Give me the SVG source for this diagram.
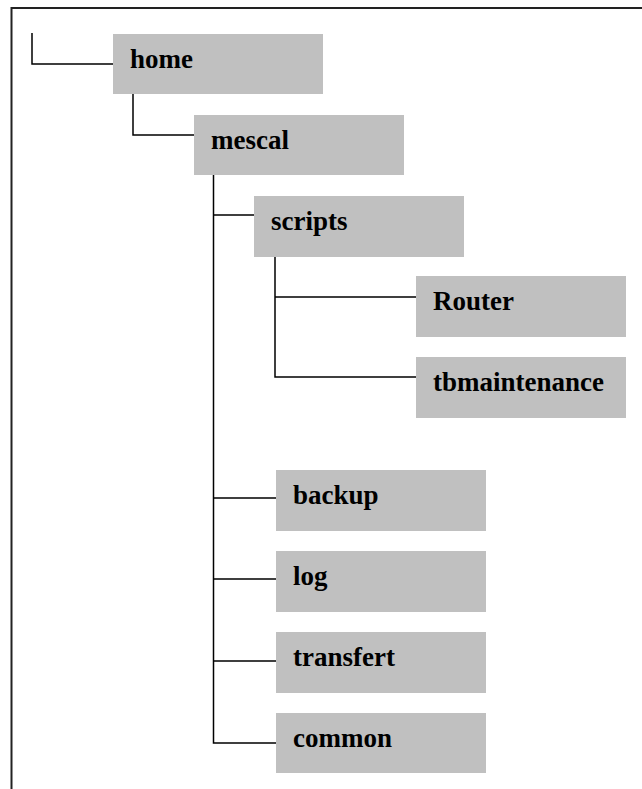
<svg xmlns="http://www.w3.org/2000/svg" width="642" height="789" viewBox="0 0 642 789">
<style>
.box{fill:#c0c0c0}
.lbl{font-family:"Liberation Serif","Times New Roman",serif;font-weight:bold;font-size:27px;fill:#000}
.conn{fill:none;stroke:#000;stroke-width:1.5}
</style>
<rect width="642" height="789" fill="#fff"/>
<path d="M11.5,789 V8 H642" fill="none" stroke="#222" stroke-width="2"/>
<g id="connectors">
<path class="conn" d="M32,33 V64 H113"/>
<path class="conn" d="M133,94 V135 H194"/>
<path class="conn" d="M213.5,175 V743 H276 M213.5,215 H254 M213.5,498 H276 M213.5,579 H276 M213.5,661 H276"/>
<path class="conn" d="M275,257 V377 H416 M275,297 H416"/>
</g>
<g id="home"><rect class="box" x="113" y="34" width="210" height="60"/><text class="lbl" x="130" y="67.5">home</text></g>
<g id="mescal"><rect class="box" x="194" y="115" width="210" height="60"/><text class="lbl" x="211" y="148.5">mescal</text></g>
<g id="scripts"><rect class="box" x="254" y="196" width="210" height="61"/><text class="lbl" x="271" y="229.5">scripts</text></g>
<g id="router"><rect class="box" x="416" y="276" width="210" height="61"/><text class="lbl" x="433" y="309.5">Router</text></g>
<g id="tbmaintenance"><rect class="box" x="416" y="357" width="210" height="61"/><text class="lbl" x="433" y="390.5">tbmaintenance</text></g>
<g id="backup"><rect class="box" x="276" y="470" width="210" height="61"/><text class="lbl" x="293" y="503.5">backup</text></g>
<g id="log"><rect class="box" x="276" y="551" width="210" height="61"/><text class="lbl" x="293" y="584.5">log</text></g>
<g id="transfert"><rect class="box" x="276" y="632" width="210" height="61"/><text class="lbl" x="293" y="665.5">transfert</text></g>
<g id="common"><rect class="box" x="276" y="713" width="210" height="60"/><text class="lbl" x="293" y="746.5">common</text></g>
</svg>
